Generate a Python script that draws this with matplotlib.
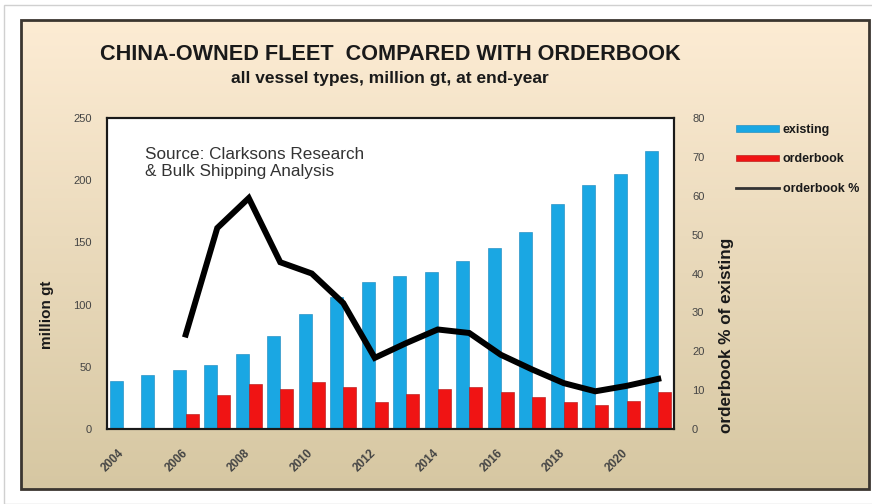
import numpy as np
import matplotlib
matplotlib.use("Agg")
import matplotlib.pyplot as plt
import matplotlib.transforms as mtransforms
from matplotlib.lines import Line2D
from matplotlib.patches import Rectangle

# --- data ---
years = list(range(2004, 2022))
existing = [38.3, 43.7, 47.7, 51.7, 60.3, 74.5, 92.7, 105.8, 118.2, 123.3,
            126.2, 134.8, 145.5, 158.6, 181.1, 195.9, 205.0, 223.2]
orderbook = [0, 0, 12.3, 27.0, 36.2, 32.2, 37.5, 33.8, 21.7, 28.1,
             32.2, 33.8, 29.5, 25.7, 21.7, 19.0, 22.8, 29.5]
pct_years = list(range(2006, 2022))
orderbook_pct = [24.3, 51.7, 59.4, 42.9, 40.0, 32.4, 18.3, 22.1, 25.6, 24.7,
                 19.1, 15.3, 11.8, 9.7, 11.1, 12.9]
tick_years = list(range(2004, 2022, 2))

plt.rcParams['font.family'] = ['Liberation Sans', 'DejaVu Sans']

fig = plt.figure(figsize=(8.72, 5.04), dpi=100)
fig.patch.set_facecolor('white')
W, H = 872.0, 504.0

# outer light frame
fig.add_artist(Rectangle((4 / W, 0), 1, 1 - 5 / H, transform=fig.transFigure,
                         fill=False, edgecolor='#d0d0d0', linewidth=1))

# gradient panel behind everything
px0, px1, py0, py1 = 21 / W, 869 / W, 1 - 489 / H, 1 - 20 / H
bg = fig.add_axes([px0, py0, px1 - px0, py1 - py0], zorder=-5)
grad = np.linspace(0, 1, 256).reshape(-1, 1)
top = np.array([253, 236, 212]) / 255
bot = np.array([214, 199, 162]) / 255
img = top + (bot - top) * grad[:, :, None]
bg.imshow(img, aspect='auto', extent=[0, 1, 0, 1], origin='upper')
bg.set_axis_off()
fig.add_artist(Rectangle((px0, py0), px1 - px0, py1 - py0, transform=fig.transFigure,
                         fill=False, edgecolor='#3b3630', linewidth=2))

# main axes
ax = fig.add_axes([107 / W, 1 - 429 / H, 567 / W, 311 / H])
ax.set_facecolor('white')
x = np.arange(len(years))
w = 0.41
b1 = ax.bar(x - 0.2, existing, w, color='#1aa7e3', edgecolor='#1584bb', linewidth=0.4, label='existing')
b2 = ax.bar(x + 0.2, orderbook, w, color='#f01414', edgecolor='#b01010', linewidth=0.4, label='orderbook')
ax.set_xlim(-0.5, len(years) - 0.5)
ax.set_ylim(0, 250)
ax.set_yticks([0, 50, 100, 150, 200, 250])
ax.tick_params(axis='y', length=0, labelsize=8, labelcolor='#444444', pad=11)
tpos = [years.index(t) for t in tick_years]
ax.set_xticks(tpos)
ax.set_xticklabels([str(t) for t in tick_years], rotation=45, ha='right', va='top',
                   fontsize=8.5, fontweight='bold', color='#444444')
ax.tick_params(axis='x', length=0, pad=13)
shift = mtransforms.ScaledTranslation(4 / 100, 0, fig.dpi_scale_trans)
for lab in ax.get_xticklabels():
    lab.set_transform(lab.get_transform() + shift)
for s in ax.spines.values():
    s.set_linewidth(1.5)
    s.set_color('#1a1a1a')
ax.set_ylabel('million gt', fontsize=11, fontweight='bold', color='#1a1a1a')
ax.yaxis.set_label_coords(-0.094, 0.367)

ax2 = ax.twinx()
px = [years.index(y) for y in pct_years]
ax2.plot(px, orderbook_pct, color='black', linewidth=4.3, solid_joinstyle='miter')
ax2.set_ylim(0, 80)
ax2.set_yticks(range(0, 81, 10))
ax2.tick_params(axis='y', length=0, labelsize=8, labelcolor='#444444', pad=13)
ax2.set_ylabel('orderbook % of existing', fontsize=12.3, fontweight='bold', color='#1a1a1a')
ax2.yaxis.set_label_coords(1.079, 0.30)
for s in ax2.spines.values():
    s.set_linewidth(1.5)
    s.set_color('#1a1a1a')

ax.text(0.067, 0.907, 'Source: Clarksons Research\n& Bulk Shipping Analysis',
        transform=ax.transAxes, fontsize=12.3, color='#333333', va='top', linespacing=1.15)

# titles
fig.text(390 / W, 1 - 55 / H, 'CHINA-OWNED FLEET  COMPARED WITH ORDERBOOK',
         ha='center', va='center', fontsize=15.6, fontweight='bold', color='#1a1a1a')
fig.text(390 / W, 1 - 78 / H, 'all vessel types, million gt, at end-year',
         ha='center', va='center', fontsize=12.5, fontweight='bold', color='#1a1a1a')

# legend
handles = [b1, b2, Line2D([], [], color='#333333', linewidth=2)]
leg = fig.legend(handles, ['existing', 'orderbook', 'orderbook %'],
                 loc='upper left', bbox_to_anchor=(731 / W, 1 - 119 / H),
                 frameon=False, fontsize=9, handlelength=3.45, handleheight=0.45,
                 labelspacing=1.4, handletextpad=0.3, borderaxespad=0)
for t in leg.get_texts():
    t.set_fontweight('bold')
    t.set_color('#1a1a1a')

fig.savefig('out.png', dpi=100)
